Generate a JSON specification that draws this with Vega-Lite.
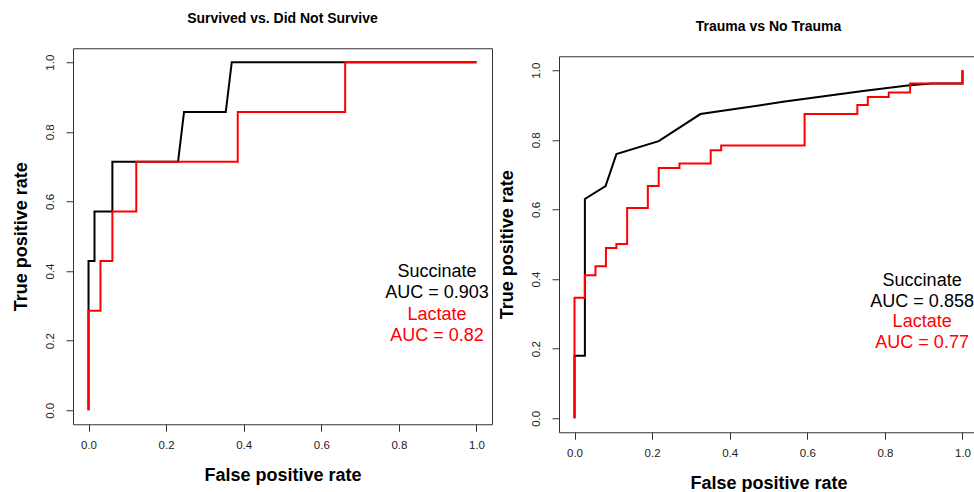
{
  "$schema": "https://vega.github.io/schema/vega-lite/v6.json",
  "padding": {"left": 11, "top": 11, "right": 0, "bottom": 0},
  "spacing": 4,
  "center": true,
  "config": {
    "font": "Liberation Sans",
    "view": {"stroke": "#333", "strokeWidth": 1},
    "axis": {"grid": false, "domain": false, "tickSize": 7, "tickColor": "#333", "labelFont": "Liberation Sans", "labelFontSize": 11.5, "labelColor": "#222", "titleFont": "Liberation Sans", "titleFontSize": 18, "titleFontWeight": "bold", "titleColor": "#000", "labelFlush": false, "labelOverlap": false},
    "title": {"font": "Liberation Sans", "fontSize": 14, "fontWeight": "bold", "anchor": "middle", "frame": "group", "baseline": "bottom", "offset": 22, "color": "#000"}
  },
  "datasets": {
    "surv": [
      {"marker": "Succinate", "step": 0, "fpr": 0, "tpr": 0},
      {"marker": "Succinate", "step": 1, "fpr": 0, "tpr": 0.4286},
      {"marker": "Succinate", "step": 2, "fpr": 0.0154, "tpr": 0.4286},
      {"marker": "Succinate", "step": 3, "fpr": 0.0154, "tpr": 0.5714},
      {"marker": "Succinate", "step": 4, "fpr": 0.0615, "tpr": 0.5714},
      {"marker": "Succinate", "step": 5, "fpr": 0.0615, "tpr": 0.7143},
      {"marker": "Succinate", "step": 6, "fpr": 0.2308, "tpr": 0.7143},
      {"marker": "Succinate", "step": 7, "fpr": 0.2462, "tpr": 0.8571},
      {"marker": "Succinate", "step": 8, "fpr": 0.3538, "tpr": 0.8571},
      {"marker": "Succinate", "step": 9, "fpr": 0.3692, "tpr": 1},
      {"marker": "Succinate", "step": 10, "fpr": 1, "tpr": 1},
      {"marker": "Lactate", "step": 0, "fpr": 0, "tpr": 0},
      {"marker": "Lactate", "step": 1, "fpr": 0, "tpr": 0.2857},
      {"marker": "Lactate", "step": 2, "fpr": 0.0308, "tpr": 0.2857},
      {"marker": "Lactate", "step": 3, "fpr": 0.0308, "tpr": 0.4286},
      {"marker": "Lactate", "step": 4, "fpr": 0.0615, "tpr": 0.4286},
      {"marker": "Lactate", "step": 5, "fpr": 0.0615, "tpr": 0.5714},
      {"marker": "Lactate", "step": 6, "fpr": 0.1231, "tpr": 0.5714},
      {"marker": "Lactate", "step": 7, "fpr": 0.1231, "tpr": 0.7143},
      {"marker": "Lactate", "step": 8, "fpr": 0.3846, "tpr": 0.7143},
      {"marker": "Lactate", "step": 9, "fpr": 0.3846, "tpr": 0.8571},
      {"marker": "Lactate", "step": 10, "fpr": 0.6615, "tpr": 0.8571},
      {"marker": "Lactate", "step": 11, "fpr": 0.6615, "tpr": 1},
      {"marker": "Lactate", "step": 12, "fpr": 1, "tpr": 1}
    ],
    "trauma": [
      {"marker": "Succinate", "step": 0, "fpr": 0, "tpr": 0},
      {"marker": "Succinate", "step": 1, "fpr": 0, "tpr": 0.18},
      {"marker": "Succinate", "step": 2, "fpr": 0.0267, "tpr": 0.18},
      {"marker": "Succinate", "step": 3, "fpr": 0.0267, "tpr": 0.63},
      {"marker": "Succinate", "step": 4, "fpr": 0.08, "tpr": 0.667},
      {"marker": "Succinate", "step": 5, "fpr": 0.108, "tpr": 0.759},
      {"marker": "Succinate", "step": 6, "fpr": 0.217, "tpr": 0.796},
      {"marker": "Succinate", "step": 7, "fpr": 0.3245, "tpr": 0.874},
      {"marker": "Succinate", "step": 8, "fpr": 0.5375, "tpr": 0.909},
      {"marker": "Succinate", "step": 9, "fpr": 0.7435, "tpr": 0.94},
      {"marker": "Succinate", "step": 10, "fpr": 0.864, "tpr": 0.957},
      {"marker": "Succinate", "step": 11, "fpr": 0.92, "tpr": 0.962},
      {"marker": "Succinate", "step": 12, "fpr": 1, "tpr": 0.962},
      {"marker": "Succinate", "step": 13, "fpr": 1, "tpr": 1},
      {"marker": "Lactate", "step": 0, "fpr": 0, "tpr": 0},
      {"marker": "Lactate", "step": 1, "fpr": 0, "tpr": 0.346},
      {"marker": "Lactate", "step": 2, "fpr": 0.0267, "tpr": 0.346},
      {"marker": "Lactate", "step": 3, "fpr": 0.0267, "tpr": 0.411},
      {"marker": "Lactate", "step": 4, "fpr": 0.054, "tpr": 0.411},
      {"marker": "Lactate", "step": 5, "fpr": 0.054, "tpr": 0.437},
      {"marker": "Lactate", "step": 6, "fpr": 0.081, "tpr": 0.437},
      {"marker": "Lactate", "step": 7, "fpr": 0.081, "tpr": 0.489},
      {"marker": "Lactate", "step": 8, "fpr": 0.108, "tpr": 0.489},
      {"marker": "Lactate", "step": 9, "fpr": 0.108, "tpr": 0.501},
      {"marker": "Lactate", "step": 10, "fpr": 0.1357, "tpr": 0.501},
      {"marker": "Lactate", "step": 11, "fpr": 0.1357, "tpr": 0.604},
      {"marker": "Lactate", "step": 12, "fpr": 0.189, "tpr": 0.604},
      {"marker": "Lactate", "step": 13, "fpr": 0.189, "tpr": 0.667},
      {"marker": "Lactate", "step": 14, "fpr": 0.217, "tpr": 0.667},
      {"marker": "Lactate", "step": 15, "fpr": 0.217, "tpr": 0.719},
      {"marker": "Lactate", "step": 16, "fpr": 0.2705, "tpr": 0.719},
      {"marker": "Lactate", "step": 17, "fpr": 0.2705, "tpr": 0.732},
      {"marker": "Lactate", "step": 18, "fpr": 0.351, "tpr": 0.732},
      {"marker": "Lactate", "step": 19, "fpr": 0.351, "tpr": 0.77},
      {"marker": "Lactate", "step": 20, "fpr": 0.378, "tpr": 0.77},
      {"marker": "Lactate", "step": 21, "fpr": 0.378, "tpr": 0.784},
      {"marker": "Lactate", "step": 22, "fpr": 0.593, "tpr": 0.784},
      {"marker": "Lactate", "step": 23, "fpr": 0.593, "tpr": 0.874},
      {"marker": "Lactate", "step": 24, "fpr": 0.729, "tpr": 0.874},
      {"marker": "Lactate", "step": 25, "fpr": 0.729, "tpr": 0.9},
      {"marker": "Lactate", "step": 26, "fpr": 0.756, "tpr": 0.9},
      {"marker": "Lactate", "step": 27, "fpr": 0.756, "tpr": 0.923},
      {"marker": "Lactate", "step": 28, "fpr": 0.81, "tpr": 0.923},
      {"marker": "Lactate", "step": 29, "fpr": 0.81, "tpr": 0.936},
      {"marker": "Lactate", "step": 30, "fpr": 0.865, "tpr": 0.936},
      {"marker": "Lactate", "step": 31, "fpr": 0.865, "tpr": 0.962},
      {"marker": "Lactate", "step": 32, "fpr": 1, "tpr": 0.962},
      {"marker": "Lactate", "step": 33, "fpr": 1, "tpr": 1}
    ],
    "one": [{}]
  },
  "hconcat": [
    {
      "width": 419,
      "height": 376,
      "title": {"text": "Survived vs. Did Not Survive"},
      "encoding": {
        "x": {"type": "quantitative", "scale": {"domain": [-0.04, 1.04], "nice": false, "zero": false},
              "axis": {"title": ["False positive rate", " "], "titleLineHeight": 16, "values": [0, 0.2, 0.4, 0.6, 0.8, 1], "format": ".1f", "labelAngle": 0, "labelAlign": "center", "labelBaseline": "middle", "labelPadding": 14.3, "titleY": 42, "titleBaseline": "top"}},
        "y": {"type": "quantitative", "scale": {"domain": [-0.04, 1.04], "nice": false, "zero": false},
              "axis": {"title": "True positive rate", "values": [0, 0.2, 0.4, 0.6, 0.8, 1], "format": ".1f", "labelAngle": -90, "labelAlign": "center", "labelBaseline": "middle", "labelPadding": 15.7, "titleX": -52, "titleAngle": -90, "titleAlign": "center", "titleBaseline": "middle"}}
      },
      "layer": [
        {"data": {"name": "surv"}, "transform": [{"filter": "datum.marker === 'Succinate'"}],
         "mark": {"type": "line", "color": "#000", "strokeWidth": 2},
         "encoding": {"x": {"field": "fpr", "type": "quantitative"}, "y": {"field": "tpr", "type": "quantitative"}, "order": {"field": "step", "type": "quantitative"}}},
        {"data": {"name": "surv"}, "transform": [{"filter": "datum.marker === 'Lactate'"}],
         "mark": {"type": "line", "color": "#ff0000", "strokeWidth": 2},
         "encoding": {"x": {"field": "fpr", "type": "quantitative"}, "y": {"field": "tpr", "type": "quantitative"}, "order": {"field": "step", "type": "quantitative"}}},
        {"data": {"name": "one"},
         "mark": {"type": "text", "text": ["Succinate", "AUC = 0.903"], "font": "Liberation Sans", "fontSize": 18, "lineHeight": 21, "align": "center", "baseline": "alphabetic", "color": "#000"},
         "encoding": {"x": {"datum": 0.898}, "y": {"datum": 0.3827}}},
        {"data": {"name": "one"},
         "mark": {"type": "text", "text": ["Lactate", "AUC = 0.82"], "font": "Liberation Sans", "fontSize": 18, "lineHeight": 21, "align": "center", "baseline": "alphabetic", "color": "#ff0000"},
         "encoding": {"x": {"datum": 0.898}, "y": {"datum": 0.2607}}}
      ]
    },
    {
      "width": 419,
      "height": 376,
      "title": {"text": "Trauma vs No Trauma"},
      "encoding": {
        "x": {"type": "quantitative", "scale": {"domain": [-0.04, 1.04], "nice": false, "zero": false},
              "axis": {"title": "False positive rate", "values": [0, 0.2, 0.4, 0.6, 0.8, 1], "format": ".1f", "labelAngle": 0, "labelAlign": "center", "labelBaseline": "middle", "labelPadding": 14.3, "titleY": 42, "titleBaseline": "top"}},
        "y": {"type": "quantitative", "scale": {"domain": [-0.04, 1.04], "nice": false, "zero": false},
              "axis": {"title": "True positive rate", "values": [0, 0.2, 0.4, 0.6, 0.8, 1], "format": ".1f", "labelAngle": -90, "labelAlign": "center", "labelBaseline": "middle", "labelPadding": 15.7, "titleX": -52, "titleAngle": -90, "titleAlign": "center", "titleBaseline": "middle"}}
      },
      "layer": [
        {"data": {"name": "trauma"}, "transform": [{"filter": "datum.marker === 'Succinate'"}],
         "mark": {"type": "line", "color": "#000", "strokeWidth": 2},
         "encoding": {"x": {"field": "fpr", "type": "quantitative"}, "y": {"field": "tpr", "type": "quantitative"}, "order": {"field": "step", "type": "quantitative"}}},
        {"data": {"name": "trauma"}, "transform": [{"filter": "datum.marker === 'Lactate'"}],
         "mark": {"type": "line", "color": "#ff0000", "strokeWidth": 2},
         "encoding": {"x": {"field": "fpr", "type": "quantitative"}, "y": {"field": "tpr", "type": "quantitative"}, "order": {"field": "step", "type": "quantitative"}}},
        {"data": {"name": "one"},
         "mark": {"type": "text", "text": ["Succinate", "AUC = 0.858"], "font": "Liberation Sans", "fontSize": 18, "lineHeight": 21, "align": "center", "baseline": "alphabetic", "color": "#000"},
         "encoding": {"x": {"datum": 0.896}, "y": {"datum": 0.3798}}},
        {"data": {"name": "one"},
         "mark": {"type": "text", "text": ["Lactate", "AUC = 0.77"], "font": "Liberation Sans", "fontSize": 18, "lineHeight": 21, "align": "center", "baseline": "alphabetic", "color": "#ff0000"},
         "encoding": {"x": {"datum": 0.896}, "y": {"datum": 0.2613}}}
      ]
    }
  ]
}
